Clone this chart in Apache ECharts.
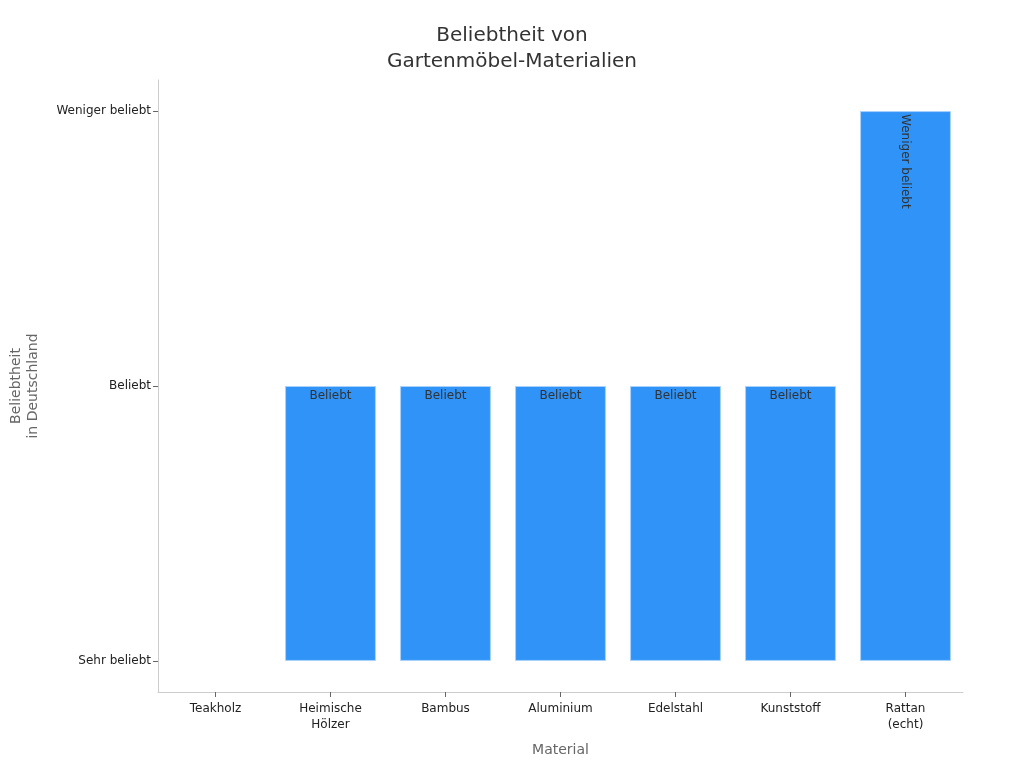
<!DOCTYPE html>
<html><head><meta charset="utf-8">
<script src="https://cdn.jsdelivr.net/npm/echarts@6/dist/echarts.min.js"></script>
<style>html,body{margin:0;padding:0;background:#fff}#c{width:1024px;height:768px}</style>
</head><body><div id="c"></div>
<script>
var categories = ['Teakholz', 'Heimische\nHölzer', 'Bambus', 'Aluminium', 'Edelstahl', 'Kunststoff', 'Rattan\n(echt)'];
var values = [0, 1, 1, 1, 1, 1, 2];
var levelLabels = ['Sehr beliebt', 'Beliebt', 'Weniger beliebt'];
var levelValues = [0, 1, 2];

var chart = echarts.init(document.getElementById('c'));
var font = 'DejaVu Sans';
chart.setOption({
  animation: false,
  textStyle: {fontFamily: font},
  title: {
    text: 'Beliebtheit von\nGartenmöbel-Materialien',
    left: 'center', top: 18,
    textStyle: {fontFamily: font, fontSize: 20, fontWeight: 'normal', color: '#333', lineHeight: 26}
  },
  grid: {left: 157, right: 61, top: 80, bottom: 76, containLabel: false},
  xAxis: {
    type: 'category',
    data: categories,
    name: 'Material',
    nameLocation: 'middle',
    nameGap: 51,
    nameTextStyle: {fontFamily: font, fontSize: 14, color: '#666'},
    axisLine: {show: true, onZero: false, lineStyle: {color: '#ccc'}},
    axisTick: {show: true, alignWithLabel: true, length: 5, lineStyle: {color: '#666', width: 1}},
    axisLabel: {fontFamily: font, fontSize: 12, color: '#222', margin: 9, lineHeight: 16}
  },
  yAxis: {
    type: 'value',
    min: -0.113, max: 2.113,
    name: 'Beliebtheit\nin Deutschland',
    nameLocation: 'middle',
    nameGap: 116,
    nameTextStyle: {fontFamily: font, fontSize: 14, color: '#666', lineHeight: 17},
    splitLine: {show: false},
    axisLine: {show: true, lineStyle: {color: '#ccc'}},
    axisTick: {show: true, length: 5, customValues: levelValues, lineStyle: {color: '#666', width: 1}},
    axisLabel: {
      fontFamily: font, fontSize: 12, color: '#222', margin: 7,
      customValues: levelValues,
      formatter: function (v) { var i = Math.round(v); return levelLabels[i] || ''; }
    }
  },
  series: [{
    type: 'bar',
    data: values.map(function (v, i) {
      var item = {value: v};
      if (v === 0) {
        item.itemStyle = {borderWidth: 0, opacity: 0};
      }
      if (v === 2) {
        item.label = {rotate: -90, position: 'insideTop', align: 'left', verticalAlign: 'middle', distance: 3};
      }
      return item;
    }),
    barWidth: '79%',
    itemStyle: {color: '#2f93f7', borderColor: '#a8d2fb', borderWidth: 1},
    label: {
      show: true, position: 'insideTop', distance: 4,
      fontFamily: font, fontSize: 12, color: '#333',
      formatter: function (p) { return p.value > 0 ? levelLabels[p.value] : ''; }
    }
  }]
});
</script></body></html>
